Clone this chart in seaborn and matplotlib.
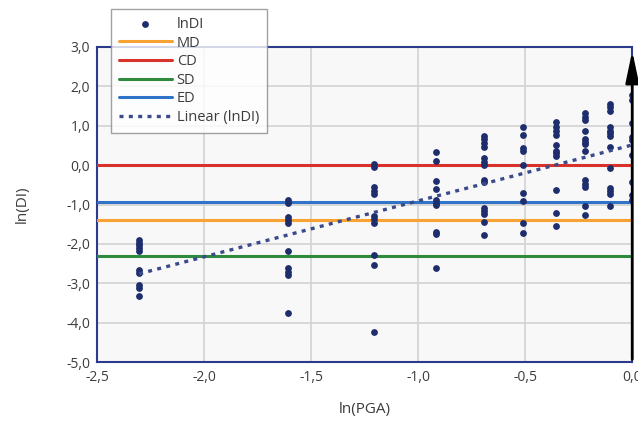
import numpy as np
import pandas as pd
import matplotlib
matplotlib.use("Agg")
import matplotlib.pyplot as plt
import seaborn as sns
from matplotlib.ticker import FuncFormatter

# ln(PGA) columns (PGA = 0.1 ... 1.0 g)
ln_pga = [-2.303, -1.609, -1.204, -0.916, -0.693, -0.511, -0.357, -0.223, -0.105, 0.0]

# ln(DI) values read per column
di_c1 = [-1.90, -1.98, -2.03, -2.10, -2.19, -2.66, -2.74, -3.04, -3.12, -3.32]
di_c2 = [-0.89, -0.96, -1.31, -1.39, -1.47, -2.17, -2.62, -2.71, -2.79, -3.75]
di_c3 = [0.03, -0.04, -0.56, -0.65, -0.73, -1.29, -1.37, -1.46, -2.28, -2.54, -4.23]
di_c4 = [0.33, 0.10, -0.40, -0.61, -0.89, -0.95, -1.02, -1.69, -1.76, -2.60]
di_c5 = [0.74, 0.66, 0.56, 0.47, 0.17, 0.09, 0.00, -0.38, -0.42, -1.10, -1.17, -1.24, -1.44, -1.77]
di_c6 = [0.97, 0.77, 0.43, 0.37, 0.00, -0.72, -0.90, -1.48, -1.73]
di_c7 = [1.10, 0.98, 0.87, 0.77, 0.51, 0.37, 0.30, 0.23, -0.63, -1.22, -1.55]
di_c8 = [1.32, 1.23, 1.15, 0.87, 0.66, 0.59, 0.54, 0.37, -0.38, -0.48, -0.56, -1.04, -1.27]
di_c9 = [1.55, 1.47, 1.38, 0.96, 0.87, 0.81, 0.74, 0.47, -0.08, -0.59, -0.66, -0.74, -1.04]
di_c10 = [1.78, 1.65, 1.07, 0.71, 0.64, 0.26, -0.43, -0.76, -0.89]

# damage state thresholds
limit_names = ["MD", "CD", "SD", "ED"]
limit_values = [-1.39, 0.0, -2.30, -0.93]
limit_colors = ["#F7A232", "#D8322B", "#2E8B3E", "#2F74C8"]

columns = [di_c1, di_c2, di_c3, di_c4, di_c5, di_c6, di_c7, di_c8, di_c9, di_c10]
rows = []
for x, ys in zip(ln_pga, columns):
    for y in ys:
        rows.append({"lnPGA": x, "lnDI": y})
df = pd.DataFrame(rows)

navy = "#1E2D6B"
text_col = "#3C3C3C"

sns.set_style("white")
plt.rcParams["font.family"] = ["Open Sans", "DejaVu Sans"]

fig = plt.figure(figsize=(6.38, 4.23), dpi=100)
ax = fig.add_axes([0.152, 0.144, 0.839, 0.745])
ax.set_facecolor("#F8F8F8")

ax.set_xlim(-2.5, 0.0)
ax.set_ylim(-5.0, 3.0)
ax.set_xticks([-2.5, -2.0, -1.5, -1.0, -0.5, 0.0])
ax.set_yticks(np.arange(-5, 3.1, 1.0))
ax.grid(True, color="#D2D2D2", linewidth=1.2)
ax.set_axisbelow(True)

handles = []
sc = ax.scatter(df["lnPGA"], df["lnDI"], s=15, color=navy, zorder=4, label="lnDI")
handles.append(sc)

for name, val, col in zip(limit_names, limit_values, limit_colors):
    h = ax.axhline(val, color=col, linewidth=2.2, zorder=3, label=name)
    handles.append(h)

sns.regplot(data=df, x="lnPGA", y="lnDI", ax=ax, scatter=False, ci=None,
            line_kws={"color": "#3A4B8C", "linestyle": (0, (1.2, 1.6)), "linewidth": 2.4, "zorder": 5})
trend = ax.lines[-1]
trend.set_label("Linear (lnDI)")
handles.append(trend)

# black arrow at x = 0
ax.annotate("", xy=(0.0, 2.97), xytext=(0.0, -5.0),
            arrowprops=dict(arrowstyle="-|>,head_length=1.9,head_width=0.4",
                            color="black", lw=2), annotation_clip=False, zorder=6)

fmt = FuncFormatter(lambda v, p: f"{v:.1f}".replace(".", ","))
ax.xaxis.set_major_formatter(fmt)
ax.yaxis.set_major_formatter(fmt)
ax.tick_params(labelsize=10, colors=text_col, length=0)
ax.tick_params(axis="x", pad=6)
ax.tick_params(axis="y", pad=5)
for s in ax.spines.values():
    s.set_color("#2C3A8C")
    s.set_linewidth(1.5)

ax.set_xlabel("ln(PGA)", fontsize=11, color=text_col, labelpad=12)
ax.set_ylabel("ln(DI)", fontsize=11, color=text_col, labelpad=26)

leg = fig.legend(handles=handles, loc="upper left", bbox_to_anchor=(0.174, 0.979),
                 fontsize=10.5, frameon=True, fancybox=False, handlelength=3.6,
                 borderpad=0.55, labelspacing=0.25, handletextpad=0.35, borderaxespad=0)
leg.get_frame().set_edgecolor("#8A8A8A")
leg.get_frame().set_linewidth(1.0)
for t in leg.get_texts():
    t.set_color(text_col)

fig.savefig("out.png", dpi=100)
